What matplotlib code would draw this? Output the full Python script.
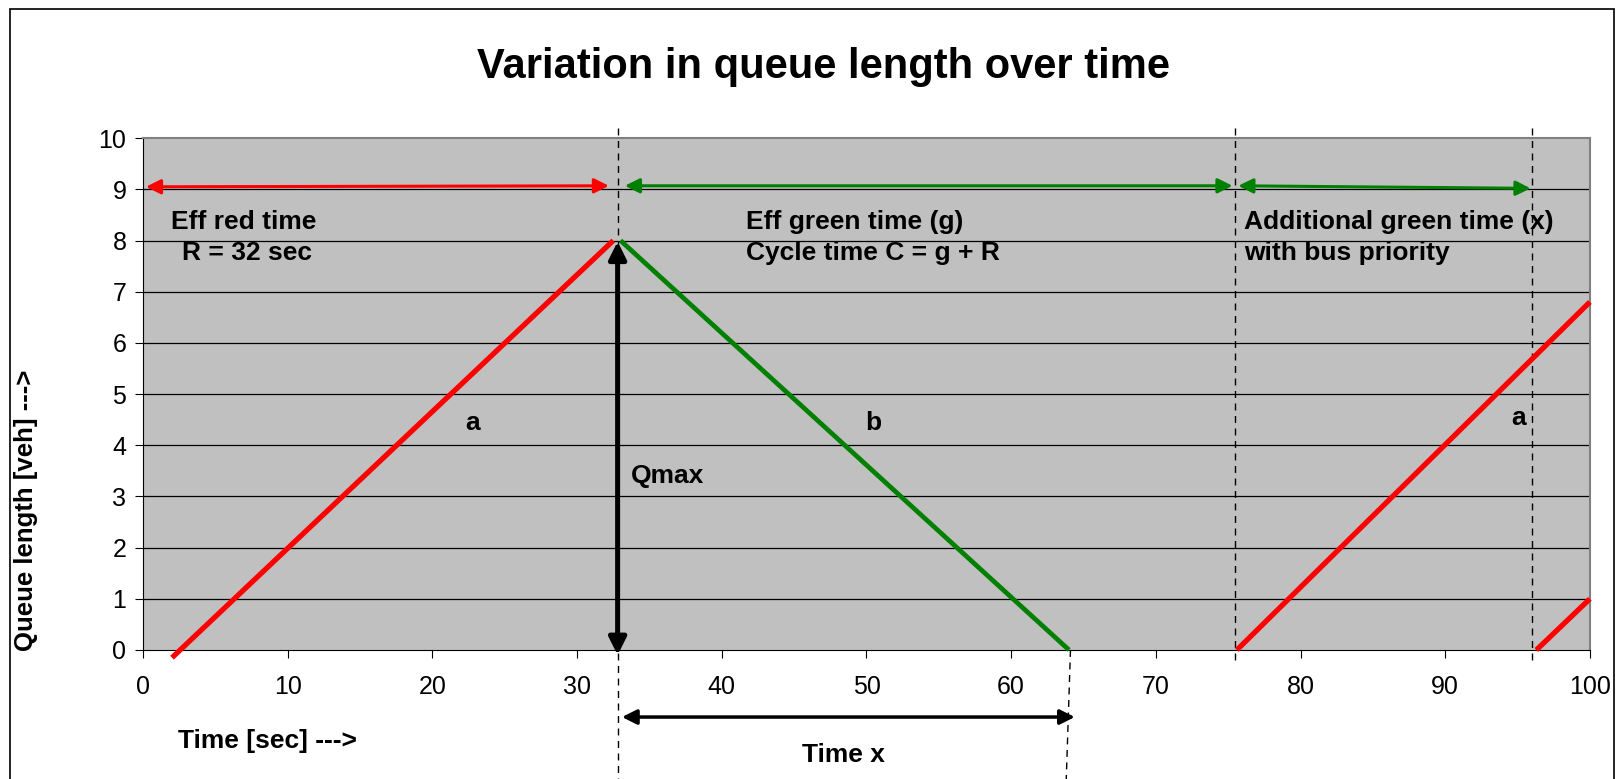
import matplotlib
matplotlib.use("Agg")
import matplotlib.pyplot as plt
from matplotlib.patches import Rectangle

plt.rcParams['font.family'] = ['Liberation Sans', 'DejaVu Sans']

# ---- data ----
red1_x = [2.0, 32.5]
red1_y = [-0.15, 8.0]
green_x = [33.0, 64.0]
green_y = [8.0, 0.0]
red2_x = [75.6, 100.0]
red2_y = [0.0, 6.8]
red3_x = [96.3, 100.0]
red3_y = [0.0, 1.0]

x_ticks = [0, 10, 20, 30, 40, 50, 60, 70, 80, 90, 100]
y_ticks = [0, 1, 2, 3, 4, 5, 6, 7, 8, 9, 10]

t_red_end = 32.8
t_green_end = 75.5
t_extra_end = 96.0
t_queue_clear = 64.1
q_max = 8.0

title = "Variation in queue length over time"

fig = plt.figure(figsize=(16.22, 7.79), dpi=100)
ax = fig.add_axes([0.0882, 0.1656, 0.892, 0.657])
ax.set_facecolor('#C0C0C0')
ax.set_xlim(0, 100)
ax.set_ylim(0, 10)
ax.set_xticks(x_ticks)
ax.set_yticks(y_ticks)
ax.set_xticklabels([str(v) for v in x_ticks], fontsize=18)
ax.set_yticklabels([str(v) for v in y_ticks], fontsize=18)
ax.tick_params(axis='x', length=6, pad=12, direction='out')
ax.tick_params(axis='y', length=6, pad=6, direction='out')
for y in y_ticks[1:-1]:
    ax.axhline(y, color='black', lw=0.9, zorder=1)
ax.spines['top'].set_color('#808080')
ax.spines['right'].set_color('#808080')
ax.spines['top'].set_linewidth(1.5)
ax.spines['right'].set_linewidth(1.5)
ax.spines['left'].set_color('black')
ax.spines['bottom'].set_color('black')

# queue lines
ax.plot(red1_x, red1_y, color='#FF0000', lw=3.8, clip_on=False, zorder=4, solid_capstyle='butt')
ax.plot(green_x, green_y, color='#008000', lw=3.4, clip_on=False, zorder=4, solid_capstyle='butt')
ax.plot(red2_x, red2_y, color='#FF0000', lw=3.8, clip_on=False, zorder=4, solid_capstyle='butt')
ax.plot(red3_x, red3_y, color='#FF0000', lw=3.8, clip_on=False, zorder=4, solid_capstyle='butt')

# dashed vertical lines
dash = dict(color='black', lw=1.0, ls=(0, (5, 4)), clip_on=False, zorder=3)
ax.plot([t_red_end, t_red_end], [10.2, -2.6], **dash)
ax.plot([t_green_end, t_green_end], [10.2, -0.25], **dash)
ax.plot([t_extra_end, t_extra_end], [10.2, -0.25], **dash)
ax.plot([t_queue_clear, 63.8], [0, -2.6], **dash)

# horizontal period arrows
def harrow(x0, x1, y0, y1, color, lw=2.2, ms=22):
    ax.annotate('', xy=(x1, y1), xytext=(x0, y0),
                arrowprops=dict(arrowstyle='<|-|>', color=color, lw=lw,
                                mutation_scale=ms, shrinkA=0, shrinkB=0),
                annotation_clip=False, zorder=5)

harrow(0.2, 32.2, 9.05, 9.07, '#FF0000')
harrow(33.3, 75.3, 9.07, 9.07, '#008000')
harrow(75.7, 95.9, 9.07, 9.02, '#008000')
# Qmax arrow
ax.annotate('', xy=(t_red_end, q_max - 0.02), xytext=(t_red_end, -0.1),
            arrowprops=dict(arrowstyle='<|-|>', color='black', lw=3.6,
                            mutation_scale=26, shrinkA=0, shrinkB=0),
            annotation_clip=False, zorder=6)
# Time x arrow
harrow(33.1, 64.4, -1.31, -1.31, 'black', lw=2.5, ms=22)

# texts
fs = 19
tkw = dict(fontsize=fs, fontweight='bold', va='center', ha='left', zorder=7)
ax.text(1.93, 8.36, 'Eff red time', **tkw)
ax.text(2.7, 7.76, 'R = 32 sec', **tkw)
ax.text(41.7, 8.36, 'Eff green time (g)', **tkw)
ax.text(41.7, 7.76, 'Cycle time C = g + R', **tkw)
ax.text(76.1, 8.36, 'Additional green time (x)', **tkw)
ax.text(76.1, 7.76, 'with bus priority', **tkw)
ax.text(22.8, 4.44, 'a', fontsize=fs, fontweight='bold', ha='center', va='center')
ax.text(50.5, 4.44, 'b', fontsize=fs, fontweight='bold', ha='center', va='center')
ax.text(95.1, 4.53, 'a', fontsize=fs, fontweight='bold', ha='center', va='center')
ax.text(33.7, 3.39, 'Qmax', **tkw)
ax.text(48.4, -2.06, 'Time x', fontsize=fs, fontweight='bold', ha='center', va='center',
        clip_on=False)

fig.text(0.508, 0.914, title, fontsize=30, fontweight='bold', ha='center', va='center')
fig.text(0.110, 0.049, 'Time [sec] --->', fontsize=19, fontweight='bold',
         ha='left', va='center')
fig.text(0.016, 0.345, 'Queue length [veh] --->', fontsize=18.5, fontweight='bold',
         rotation=90, ha='center', va='center')

fig.patches.append(Rectangle((0.006, -0.02), 0.989, 1.008, transform=fig.transFigure,
                             fill=False, edgecolor='black', lw=1.2))

fig.savefig('out.png', dpi=100)
